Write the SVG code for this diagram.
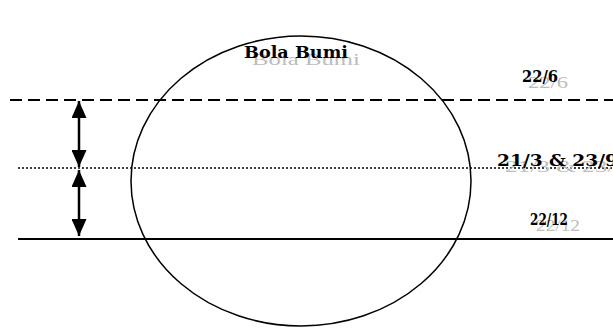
<svg xmlns="http://www.w3.org/2000/svg" width="613" height="328" viewBox="0 0 613 328">
<style>
.lbl{font-family:"DejaVu Serif","Liberation Serif",serif;font-weight:bold;fill:#000;}
.shd{font-family:"Liberation Serif","Times New Roman",serif;fill:#bdbdbd;}
.ln{stroke:#000;fill:none;}
</style>
<defs>
<marker id="ah" markerUnits="userSpaceOnUse" markerWidth="17" markerHeight="15" refX="17" refY="7.5" orient="auto-start-reverse">
<path d="M0,0 L17,7.5 L0,15 z" fill="#000"/>
</marker>
</defs>
<g id="earth">
<ellipse cx="301" cy="181" rx="170" ry="145" class="ln" stroke-width="1.5"/>
<text class="shd" x="252" y="65" font-size="17" textLength="108" lengthAdjust="spacingAndGlyphs">Bola Bumi</text>
<text class="lbl" x="244" y="58" font-size="17" textLength="104" lengthAdjust="spacingAndGlyphs">Bola Bumi</text>
</g>
<g id="line-22-6">
<line x1="10" y1="100" x2="613" y2="100" class="ln" stroke-width="2" stroke-dasharray="12 6"/>
<text class="shd" x="528" y="88" font-size="16" textLength="40" lengthAdjust="spacingAndGlyphs">22/6</text>
<text class="lbl" x="522" y="82" font-size="16" textLength="36" lengthAdjust="spacingAndGlyphs">22/6</text>
</g>
<g id="line-21-3">
<line x1="18" y1="168" x2="613" y2="168" class="ln" stroke-width="1.5" stroke-dasharray="2 2"/>
<text class="shd" x="505" y="172" font-size="16" textLength="122" lengthAdjust="spacingAndGlyphs">21/3 &amp; 23/9</text>
<text class="lbl" x="497" y="166" font-size="16" textLength="121" lengthAdjust="spacingAndGlyphs">21/3 &amp; 23/9</text>
</g>
<g id="line-22-12">
<line x1="18" y1="239" x2="613" y2="239" class="ln" stroke-width="2"/>
<text class="shd" x="536" y="231" font-size="16" textLength="44" lengthAdjust="spacingAndGlyphs">22/12</text>
<text class="lbl" x="530" y="225" font-size="16" textLength="38" lengthAdjust="spacingAndGlyphs">22/12</text>
</g>
<g id="connectors">
<line x1="79" y1="101" x2="79" y2="167" class="ln" stroke-width="2.5" marker-start="url(#ah)" marker-end="url(#ah)"/>
<line x1="79" y1="170" x2="79" y2="236" class="ln" stroke-width="2.5" marker-start="url(#ah)" marker-end="url(#ah)"/>
</g>
</svg>
